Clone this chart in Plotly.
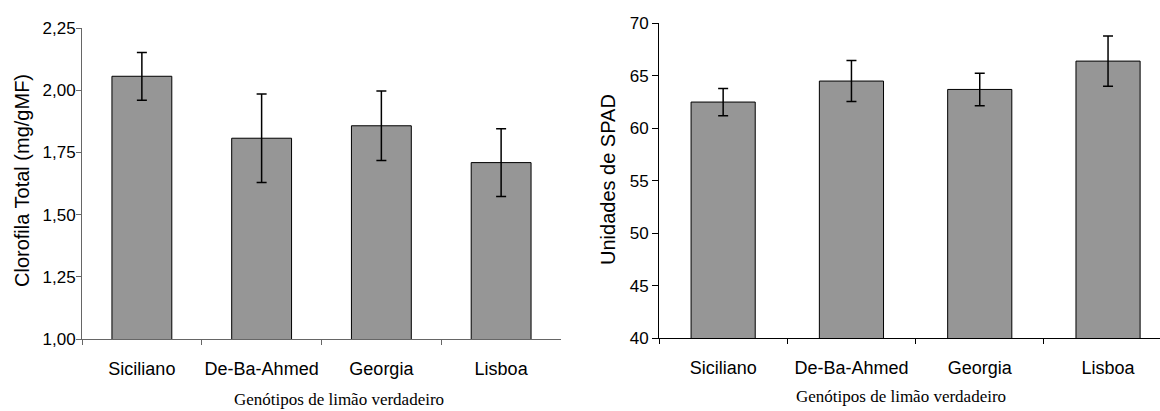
import plotly.graph_objects as go

categories = ["Siciliano", "De-Ba-Ahmed", "Georgia", "Lisboa"]
clorofila = [2.056, 1.807, 1.857, 1.709]
clorofila_err = [0.096, 0.178, 0.140, 0.136]
spad = [62.5, 64.5, 63.7, 66.4]
spad_err = [1.3, 1.95, 1.55, 2.4]

y1_ticks = [1.00, 1.25, 1.50, 1.75, 2.00, 2.25]
y2_ticks = [40, 45, 50, 55, 60, 65, 70]

x_title = "Genótipos de limão verdadeiro"
y1_title = "Clorofila Total (mg/gMF)"
y2_title = "Unidades de SPAD"

W, H = 1160, 411
BAR = "#969696"
SANS = "Liberation Sans, Arial, sans-serif"
SERIF = "Liberation Serif, Times New Roman, serif"

fig = go.Figure()
fig.add_trace(go.Bar(
    x=categories, y=clorofila, xaxis="x", yaxis="y",
    marker=dict(color=BAR, line=dict(color="#000000", width=1)),
    error_y=dict(type="data", array=clorofila_err, color="#000000", thickness=1.5, width=5),
    showlegend=False,
))
fig.add_trace(go.Bar(
    x=categories, y=spad, xaxis="x2", yaxis="y2",
    marker=dict(color=BAR, line=dict(color="#000000", width=1)),
    error_y=dict(type="data", array=spad_err, color="#000000", thickness=1.5, width=5),
    showlegend=False,
))

def px_x(p):
    return p / W

def px_y(p):
    return (H - p) / H

common_x = dict(
    type="category", showline=True, linewidth=1, ticks="outside", ticklen=5,
    tickson="boundaries", showgrid=False, zeroline=False, automargin=False,
    tickangle=0,
    tickfont=dict(family=SANS, size=18, color="#000000"), ticklabelstandoff=13,
)
common_y = dict(
    showline=True, linewidth=1, ticks="outside", ticklen=5, showgrid=False,
    zeroline=False, automargin=False,
    tickfont=dict(family=SANS, size=17, color="#000000"),
)

fig.update_layout(
    width=W, height=H,
    margin=dict(l=0, r=0, t=0, b=0, autoexpand=False),
    paper_bgcolor="white", plot_bgcolor="white",
    separators=",.",
    bargap=0.5,
    xaxis=dict(common_x, domain=[px_x(82), px_x(561)], range=[-0.5, 3.5],
               anchor="y", linecolor="#666666", tickcolor="#666666"),
    yaxis=dict(common_y, domain=[px_y(339), px_y(28)], range=[1.0, 2.25],
               tickvals=y1_ticks, tickformat=".2f", anchor="x",
               ticklabelstandoff=-3,
               linecolor="#666666", tickcolor="#666666"),
    xaxis2=dict(common_x, domain=[px_x(659), 1.0], range=[-0.5, 3.405],
                anchor="y2", linecolor="#000000", tickcolor="#000000"),
    yaxis2=dict(common_y, domain=[px_y(338.3), px_y(23.3)], range=[40, 70],
                tickvals=y2_ticks, anchor="x2", ticklen=6,
                linecolor="#000000", tickcolor="#000000"),
    annotations=[
        dict(text=y1_title, xref="paper", yref="paper", x=px_x(22), y=px_y(181),
             textangle=-90, showarrow=False, xanchor="center", yanchor="middle",
             font=dict(family=SANS, size=20, color="#000000")),
        dict(text=y2_title, xref="paper", yref="paper", x=px_x(608), y=px_y(180),
             textangle=-90, showarrow=False, xanchor="center", yanchor="middle",
             font=dict(family=SANS, size=20, color="#000000")),
        dict(text=x_title, xref="paper", yref="paper", x=px_x(339), y=px_y(411),
             showarrow=False, xanchor="center", yanchor="bottom",
             font=dict(family=SERIF, size=17, color="#000000")),
        dict(text=x_title, xref="paper", yref="paper", x=px_x(901), y=px_y(396),
             showarrow=False, xanchor="center", yanchor="middle",
             font=dict(family=SERIF, size=17, color="#000000")),
    ],
)

fig.write_html("out.html", config={"displayModeBar": False},
               post_script="document.body.style.margin='0';")
